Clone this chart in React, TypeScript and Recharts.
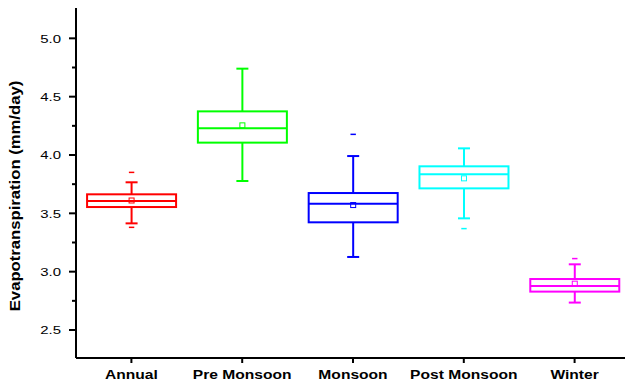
import { BarChart, Bar, XAxis, YAxis } from 'recharts';

const categories = ['Annual', 'Pre Monsoon', 'Monsoon', 'Post Monsoon', 'Winter'];
const q1 = [3.554, 4.106, 3.423, 3.714, 2.829];
const q3 = [3.663, 4.374, 3.674, 3.903, 2.937];
const median = [3.606, 4.229, 3.583, 3.834, 2.877];
const mean = [3.61, 4.254, 3.571, 3.8, 2.897];
const whiskerLow = [3.414, 3.777, 3.126, 3.457, 2.735];
const whiskerHigh = [3.766, 4.74, 3.991, 4.057, 3.063];
const outlierHigh = [3.851, null, 4.177, null, 3.112];
const outlierLow = [3.38, null, null, 3.369, null];
const yTicks = [2.5, 2.75, 3.0, 3.25, 3.5, 3.75, 4.0, 4.25, 4.5, 4.75, 5.0];

const colors = ['#ff0000', '#00ff00', '#0000ff', '#00ffff', '#ff00ff'];
const FONT = '"Liberation Sans", Arial, sans-serif';

const data = categories.map((name, i) => ({
  name,
  box: [q1[i], q3[i]],
  q1: q1[i],
  q3: q3[i],
  median: median[i],
  mean: mean[i],
  lo: whiskerLow[i],
  hi: whiskerHigh[i],
  outliers: [outlierHigh[i], outlierLow[i]].filter((v) => v != null),
  color: colors[i],
}));

// the box bar gives the pixel span of [q1, q3]; everything else is placed on the same linear scale
const BoxShape = (props: any) => {
  const { x, y, width, height, payload } = props;
  const top = Math.min(y, y + height);
  const h = Math.abs(height);
  const k = h / (payload.q3 - payload.q1);
  const toY = (v: number) => top + (payload.q3 - v) * k;
  const cx = x + width / 2;
  const c = payload.color;
  const cap = 6;
  return (
    <g>
      <line x1={cx} x2={cx} y1={toY(payload.hi)} y2={toY(payload.lo)} stroke={c} strokeWidth={2} />
      <line x1={cx - cap} x2={cx + cap} y1={toY(payload.hi)} y2={toY(payload.hi)} stroke={c} strokeWidth={2} />
      <line x1={cx - cap} x2={cx + cap} y1={toY(payload.lo)} y2={toY(payload.lo)} stroke={c} strokeWidth={2} />
      <rect x={x} y={top} width={width} height={h} fill="#fff" stroke={c} strokeWidth={2} />
      <line x1={x} x2={x + width} y1={toY(payload.median)} y2={toY(payload.median)} stroke={c} strokeWidth={2} />
      <rect x={cx - 2.5} y={toY(payload.mean) - 2.5} width={5} height={5} fill="none" stroke={c} strokeWidth={1} />
      {payload.outliers.map((v: number, i: number) => (
        <line key={i} x1={cx - 2.7} x2={cx + 2.7} y1={toY(v)} y2={toY(v)} stroke={c} strokeWidth={1.5} />
      ))}
    </g>
  );
};

const YTick = (props: any) => {
  const { x, y, payload } = props;
  const v = payload.value;
  const major = Math.abs(v * 2 - Math.round(v * 2)) < 1e-6;
  return (
    <g>
      <line x1={x - (major ? 7 : 4)} x2={x} y1={y} y2={y} stroke="#000" strokeWidth={2} />
      {major && (
        <text
          transform={`translate(${x - 15},${y + 4.2}) scale(1.3,1)`}
          textAnchor="end"
          fontSize={11.5}
          fontFamily={FONT}
          fill="#000"
        >
          {v.toFixed(1)}
        </text>
      )}
    </g>
  );
};

const XTick = (props: any) => {
  const { x, y, payload } = props;
  return (
    <g>
      <line x1={x} x2={x} y1={y} y2={y + 5} stroke="#000" strokeWidth={2} />
      <text
        transform={`translate(${x},${y + 21}) scale(1.3,1)`}
        textAnchor="middle"
        fontSize={12}
        fontWeight="bold"
        fontFamily={FONT}
        fill="#000"
      >
        {payload.value}
      </text>
    </g>
  );
};

const YLabel = (props: any) => {
  const { viewBox } = props;
  const cy = viewBox.y + viewBox.height / 2 + 13;
  return (
    <text
      transform={`translate(15,${cy}) rotate(-90) scale(1.15,1)`}
      textAnchor="middle"
      dominantBaseline="central"
      fontSize={14.5}
      fontWeight="bold"
      fontFamily={FONT}
      fill="#000"
    >
      Evapotranspiration (mm/day)
    </text>
  );
};

export default function App() {
  return (
    <div style={{ position: 'absolute', left: 0, top: 0, width: 625, height: 384, overflow: 'hidden', background: '#fff' }}>
      <BarChart
        width={640}
        height={384}
        data={data}
        margin={{ top: 8, right: 10, bottom: 0, left: 0 }}
        barCategoryGap="10%"
      >
        <XAxis
          dataKey="name"
          height={26}
          interval={0}
          tickSize={0}
          tickMargin={0}
          tickLine={false}
          axisLine={{ stroke: '#000', strokeWidth: 2 }}
          tick={<XTick />}
        />
        <YAxis
          width={76}
          type="number"
          domain={[2.26, 5.26]}
          ticks={yTicks}
          interval={0}
          tickSize={0}
          tickMargin={0}
          tickLine={false}
          axisLine={{ stroke: '#000', strokeWidth: 2 }}
          tick={<YTick />}
          label={{ content: <YLabel /> }}
        />
        <Bar dataKey="box" shape={<BoxShape />} isAnimationActive={false} />
      </BarChart>
    </div>
  );
}
